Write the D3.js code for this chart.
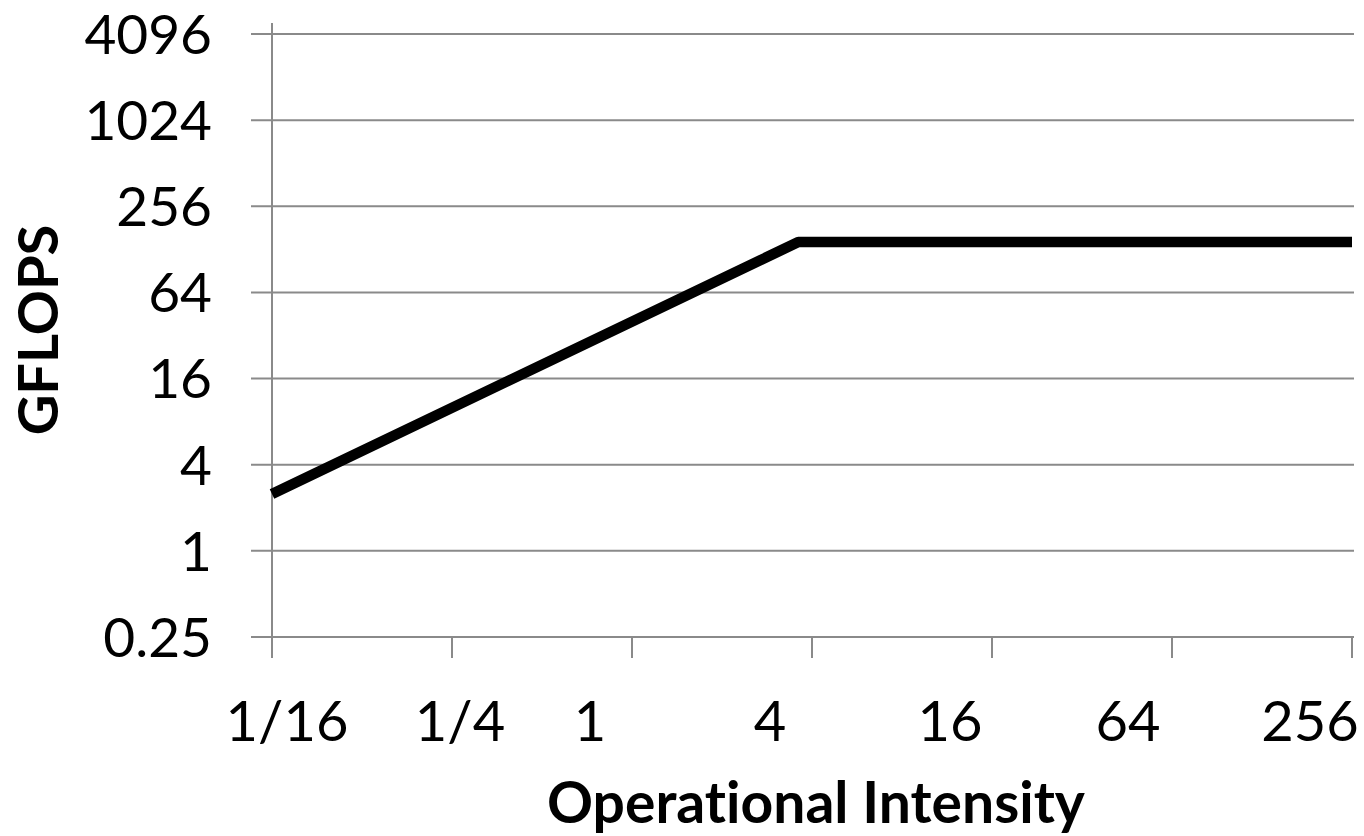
<!DOCTYPE html>
<html>
<head>
<meta charset="utf-8">
<script src="https://cdn.jsdelivr.net/npm/d3@7/dist/d3.min.js"></script>
<style>
  html, body { margin: 0; padding: 0; background: #fff; }
  svg { display: block; }
  text { font-family: Lato, "Open Sans", sans-serif; fill: #000; font-variant-ligatures: none; font-feature-settings: "liga" 0, "clig" 0; }
</style>
</head>
<body>
<svg id="chart" width="1364" height="836"></svg>
<script>
// ---- data ----
const xTickValues = [1/16, 1/4, 1, 4, 16, 64, 256];
const xTickLabels = ["1/16", "1/4", "1", "4", "16", "64", "256"];
const yTickValues = [0.25, 1, 4, 16, 64, 256, 1024, 4096];
const yTickLabels = ["0.25", "1", "4", "16", "64", "256", "1024", "4096"];
const rooflineOI = [0.0625, 3.6, 256];      // operational intensity
const rooflineGflops = [2.5, 144, 144];     // attainable GFLOPS
const xTitle = "Operational Intensity";
const yTitle = "GFLOPS";

// ---- layout ----
(function () {
const svg = d3.select("#chart");
const pLeft = 272, pRight = 1352, pTop = 34, pBottom = 637;
const gridColor = "#8a8a8a";

const x = d3.scaleLog().base(2).domain([1/16, 256]).range([pLeft, pRight]);
const y = d3.scaleLog().base(2).domain([0.25, 4096]).range([pBottom, pTop]);

// horizontal gridlines (with outward tick stubs to the left)
svg.append("g").selectAll("line").data(yTickValues).join("line")
  .attr("x1", pLeft - 21).attr("x2", pRight + 2)
  .attr("y1", d => y(d)).attr("y2", d => y(d))
  .attr("stroke", gridColor).attr("stroke-width", 2);

// y axis line
svg.append("line")
  .attr("x1", pLeft).attr("x2", pLeft)
  .attr("y1", pTop - 11).attr("y2", pBottom + 21)
  .attr("stroke", gridColor).attr("stroke-width", 2);

// x ticks (downwards)
svg.append("g").selectAll("line").data(xTickValues).join("line")
  .attr("x1", d => x(d)).attr("x2", d => x(d))
  .attr("y1", pBottom).attr("y2", pBottom + 21)
  .attr("stroke", gridColor).attr("stroke-width", 2);

// y tick labels
svg.append("g").selectAll("text").data(yTickValues).join("text")
  .attr("x", pLeft - 60)
  .attr("y", d => y(d))
  .attr("dy", "0.36em")
  .attr("text-anchor", "end")
  .attr("font-size", 55)
  .text((d, i) => yTickLabels[i]);

// x tick labels (placed as in the original, shifted from their ticks)
const labelShift = [15, 8, -42, -42, -42, -44, -42];
svg.append("g").selectAll("text").data(xTickValues).join("text")
  .attr("x", (d, i) => x(d) + labelShift[i])
  .attr("y", 741)
  .attr("text-anchor", "middle")
  .attr("font-size", 56)
  .text((d, i) => xTickLabels[i]);

// roofline
const pts = rooflineOI.map((v, i) => [v, rooflineGflops[i]]);
svg.append("path")
  .datum(pts)
  .attr("d", d3.line().x(d => x(d[0])).y(d => y(d[1])))
  .attr("fill", "none")
  .attr("stroke", "#000")
  .attr("stroke-width", 10.5)
  .attr("stroke-linejoin", "round")
  .attr("stroke-linecap", "butt");

// axis titles
svg.append("text")
  .attr("x", 816).attr("y", 823)
  .attr("text-anchor", "middle")
  .attr("font-size", 57)
  .attr("font-weight", "bold")
  .text(xTitle);

svg.append("text")
  .attr("transform", "translate(58,330) rotate(-90)")
  .attr("text-anchor", "middle")
  .attr("font-size", 56)
  .attr("font-weight", "bold")
  .text(yTitle);
})();
</script>
</body>
</html>
